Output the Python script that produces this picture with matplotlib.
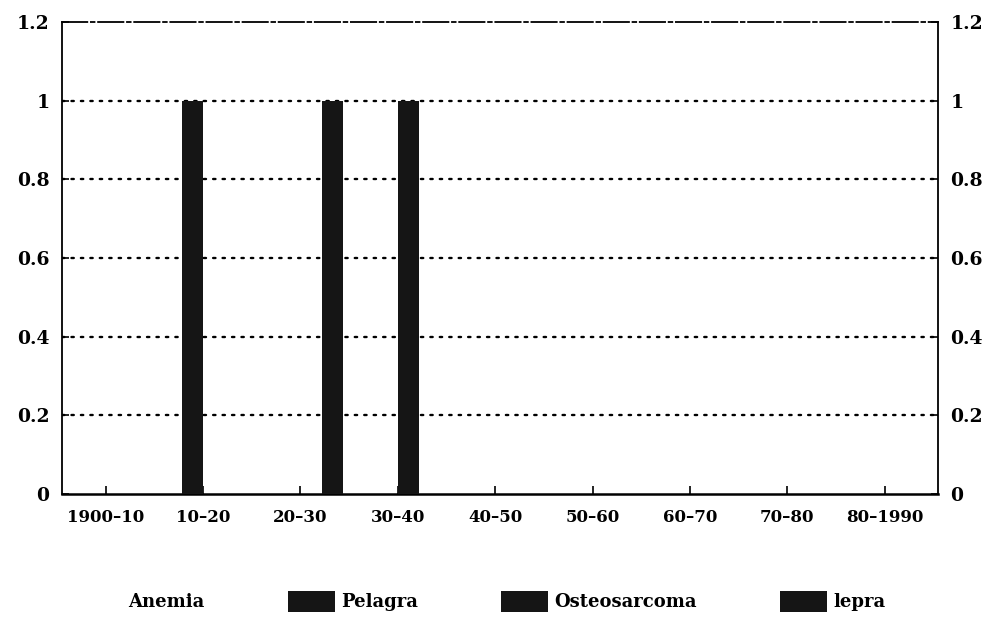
import matplotlib
matplotlib.use("Agg")
import matplotlib.pyplot as plt
import matplotlib.patches as mpatches
import numpy as np

decades = ["1900–10", "10–20", "20–30", "30–40", "40–50",
           "50–60", "60–70", "70–80", "80–1990"]
series = ["Anemia", "Pelagra", "Osteosarcoma", "lepra"]
anemia = [0, 0, 0, 0, 0, 0, 0, 0, 0]
pelagra = [0, 1, 0, 0, 0, 0, 0, 0, 0]
osteosarcoma = [0, 0, 0, 1, 0, 0, 0, 0, 0]
lepra = [0, 0, 1, 0, 0, 0, 0, 0, 0]
colors = ["white", "#151515", "#151515", "#151515"]
yticks = [0, 0.2, 0.4, 0.6, 0.8, 1, 1.2]
ylabels = ["0", "0.2", "0.4", "0.6", "0.8", "1", "1.2"]


def main():
    plt.rcParams["font.family"] = ["DejaVu Serif"]
    plt.rcParams["font.weight"] = "bold"

    fig = plt.figure(figsize=(9.9, 6.23), dpi=100)
    ax = fig.add_axes([0.0626, 0.207, 0.885, 0.758])

    x = np.arange(len(decades))
    w = 0.22
    data = [anemia, pelagra, osteosarcoma, lepra]
    for i, vals in enumerate(data):
        ax.bar(x + (i - 1.5) * w, vals, width=w, color=colors[i],
               edgecolor="none", zorder=3)

    ax.set_xlim(-0.45, len(decades) - 0.45)
    ax.set_ylim(0, 1.2)
    ax.set_yticks(yticks)
    ax.set_yticklabels(ylabels)
    ax.set_xticks(x)
    ax.set_xticklabels(decades)

    # punteado horizontal
    for y in yticks[1:-1]:
        ax.axhline(y, color="black", lw=1.7, ls=(0, (1, 3)),
                   dash_capstyle="round", zorder=1)

    for s in ["left", "right"]:
        ax.spines[s].set_linewidth(1.3)
    ax.spines["bottom"].set_linewidth(1.8)
    ax.spines["top"].set_linewidth(1.3)
    ax.spines["top"].set_linestyle((0, (14, 2, 2, 2)))

    ax.tick_params(axis="y", which="both", direction="in", length=5,
                   width=1.2, right=True, labelright=True,
                   labelsize=13.5, pad=9)
    ax.tick_params(axis="x", direction="in", length=6, width=1.2,
                   labelsize=12, pad=11)

    handles = [mpatches.Patch(facecolor=colors[i], edgecolor="none",
                              label=series[i]) for i in range(len(series))]
    fig.legend(handles=handles, loc="lower center", ncol=4,
               bbox_to_anchor=(0.485, -0.008), frameon=False,
               fontsize=13, handlelength=2.6, handleheight=1.4,
               columnspacing=4.6, handletextpad=0.35)

    fig.savefig("out.png", dpi=100)
    plt.close(fig)


if __name__ == "__main__":
    main()
